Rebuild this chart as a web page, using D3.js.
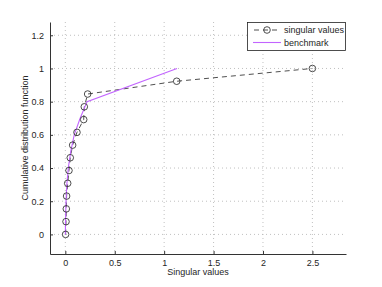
<!DOCTYPE html>
<html><head><meta charset="utf-8">
<script src="https://cdn.jsdelivr.net/npm/d3@7"></script>
<style>body{margin:0;background:#fff}svg{display:block}text{font-family:"Liberation Sans",Arial,sans-serif}</style>
</head><body><svg id="c" width="382" height="287"></svg>
<script>
const svX = [0.003,0.007,0.01,0.013,0.024,0.037,0.05,0.074,0.118,0.186,0.192,0.226,1.127,2.5];
const svY = [0,0.077,0.154,0.231,0.308,0.385,0.462,0.538,0.615,0.692,0.769,0.846,0.923,1.0];
const bmX = [0,0.003,0.007,0.015,0.03,0.055,0.09,0.15,0.22,1.13];
const bmY = [0,0.1,0.2,0.3,0.4,0.5,0.6,0.7,0.8,1.0];
const xTicks = [0,0.5,1,1.5,2,2.5];
const yTicks = [0,0.2,0.4,0.6,0.8,1,1.2];
const legendLabels = ["singular values","benchmark"];

const svg = d3.select("#c");
const L=50,R=346,T=22,B=254;
const x = d3.scaleLinear().domain([-0.155,2.84]).range([L,R]);
const y = d3.scaleLinear().domain([-0.118,1.28]).range([B,T]);
const ax="#333", purple="#c264ff", fs="9px";

// grid
const g = svg.append("g");
g.selectAll(".gx").data(xTicks).join("line").attr("x1",d=>x(d)).attr("x2",d=>x(d)).attr("y1",T).attr("y2",B)
 .attr("stroke","#b0b0b0").attr("stroke-width",0.8).attr("stroke-dasharray","1,3");
g.selectAll(".gy").data(yTicks).join("line").attr("y1",d=>y(d)).attr("y2",d=>y(d)).attr("x1",L).attr("x2",R)
 .attr("stroke","#b0b0b0").attr("stroke-width",0.8).attr("stroke-dasharray","1,3");

// axes
const xa = svg.append("g").attr("transform",`translate(0,${B})`).call(d3.axisBottom(x).tickValues(xTicks).tickFormat(d3.format("")).tickSizeInner(-3).tickSizeOuter(0).tickPadding(6));
const ya = svg.append("g").attr("transform",`translate(${L},0)`).call(d3.axisLeft(y).tickValues(yTicks).tickFormat(d3.format("")).tickSizeInner(-3).tickSizeOuter(0).tickPadding(6));
[xa,ya].forEach(a=>{a.select(".domain").attr("stroke",ax);a.selectAll(".tick line").attr("stroke",ax);
 a.selectAll("text").attr("fill","#262626").style("font-size",fs).style("font-family","'Liberation Sans',Arial,sans-serif");});

// lines
const bm = bmX.map((d,i)=>[d,bmY[i]]);
const sv = svX.map((d,i)=>[d,svY[i]]);
const line = d3.line().x(d=>x(d[0])).y(d=>y(d[1]));
svg.append("path").datum(sv).attr("d",line).attr("fill","none").attr("stroke","#222").attr("stroke-width",0.8).attr("stroke-dasharray","5,4");
svg.append("path").datum(bm).attr("d",line).attr("fill","none").attr("stroke",purple).attr("stroke-width",1.1);
svg.selectAll(".m").data(sv).join("circle").attr("cx",d=>x(d[0])).attr("cy",d=>y(d[1])).attr("r",3.3)
 .attr("fill","none").attr("stroke","#222").attr("stroke-width",0.8);

// labels
svg.append("text").attr("x",(L+R)/2).attr("y",275).attr("text-anchor","middle").style("font-size",fs).attr("fill","#262626").text("Singular values");
svg.append("text").attr("transform",`translate(28,${(T+B)/2}) rotate(-90)`).attr("text-anchor","middle").style("font-size",fs).attr("fill","#262626").text("Cumulative distribution function");

// legend
const lg = svg.append("g");
lg.append("rect").attr("x",247.5).attr("y",22.5).attr("width",98).attr("height",28).attr("fill","#fff").attr("stroke","#222").attr("stroke-width",0.8);
lg.append("line").attr("x1",253).attr("x2",281).attr("y1",30).attr("y2",30).attr("stroke","#222").attr("stroke-width",0.8).attr("stroke-dasharray","5,4").attr("stroke-dashoffset",-1);
lg.append("circle").attr("cx",267).attr("cy",30).attr("r",3.3).attr("fill","none").attr("stroke","#222").attr("stroke-width",0.8);
lg.append("line").attr("x1",253).attr("x2",281).attr("y1",42.5).attr("y2",42.5).attr("stroke",purple).attr("stroke-width",1.1);
lg.selectAll(".lt").data(legendLabels).join("text").attr("x",284).attr("y",(d,i)=>33+i*12.5).style("font-size",fs).attr("fill","#262626").text(d=>d);
</script></body></html>
